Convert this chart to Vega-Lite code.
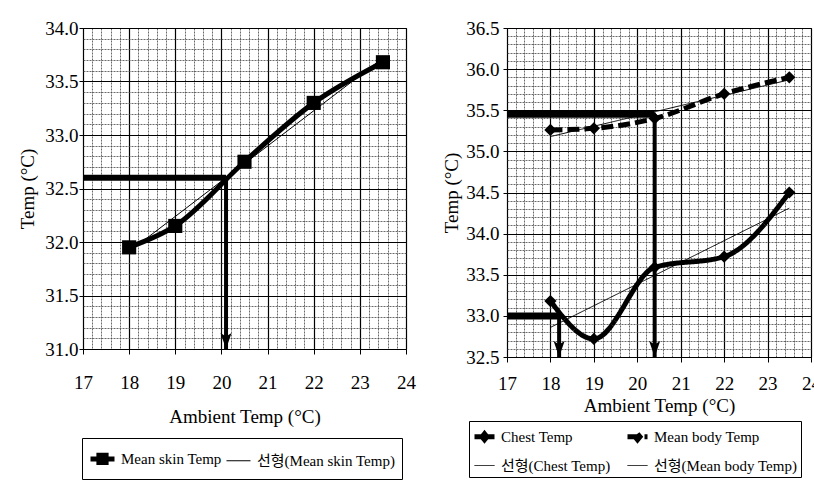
{
  "$schema": "https://vega.github.io/schema/vega-lite/v6.json",
  "padding": {"left": 18, "top": 18, "right": 0, "bottom": 0},
  "background": "white",
  "bounds": "flush",
  "spacing": 101,
  "resolve": {"scale": {"strokeWidth": "independent", "strokeDash": "independent"}, "legend": {"strokeWidth": "independent", "strokeDash": "independent"}},
  "config": {
    "font": "Liberation Serif",
    "view": {"stroke": "black", "strokeWidth": 1},
    "legend": {
      "labelFont": "Liberation Serif, Noto Sans CJK KR", "labelFontSize": 15, "labelColor": "black",
      "strokeColor": "black", "fillColor": "white", "symbolStrokeColor": "black", "symbolType": "stroke",
      "labelLimit": 300
    }
  },
  "hconcat": [
    {
      "width": 323,
      "height": 321,
      "encoding": {
        "x": {
          "field": "x", "type": "quantitative",
          "scale": {"domain": [17, 24], "nice": false, "zero": false},
          "axis": {
            "title": "Ambient Temp (°C)",
            "labelFont": "Liberation Serif", "titleFont": "Liberation Serif",
            "labelFontSize": 19, "titleFontSize": 19, "titleFontWeight": "normal",
            "labelColor": "black", "titleColor": "black", "domain": false, "tickColor": "black",
            "labelOverlap": false, "labelFlush": false, "labelBound": false, "grid": true,
            "values": [17,17.2,17.4,17.6,17.8,18,18.2,18.4,18.6,18.8,19,19.2,19.4,19.6,19.8,20,20.2,20.4,20.6,20.8,21,21.2,21.4,21.6,21.8,22,22.2,22.4,22.6,22.8,23,23.2,23.4,23.6,23.8,24],
            "labelExpr": "abs(round(datum.value*10)%10)==0 ? format(datum.value,'d') : ''",
            "tickSize": 5, "labelPadding": 19, "titlePadding": 15,
            "tickOpacity": {"condition": {"test": "abs(round(datum.value*10)%10)==0", "value": 1}, "value": 0},
            "gridColor": {"condition": {"test": "abs(round(datum.value*10)%10)==0", "value": "#000000"}, "value": "#444444"},
            "gridDash": {"condition": {"test": "abs(round(datum.value*10)%10)==0", "value": []}, "value": [2, 1]},
            "gridWidth": {"condition": {"test": "abs(round(datum.value*10)%10)==0", "value": 1.2}, "value": 0.8}
          }
        },
        "y": {
          "field": "y", "type": "quantitative",
          "scale": {"domain": [31, 34], "nice": false, "zero": false},
          "axis": {
            "title": "Temp (°C)",
            "labelFont": "Liberation Serif", "titleFont": "Liberation Serif",
            "labelFontSize": 19, "titleFontSize": 19, "titleFontWeight": "normal",
            "labelColor": "black", "titleColor": "black", "domain": false, "tickColor": "black",
            "labelOverlap": false, "labelFlush": false, "labelBound": false, "grid": true,
            "values": [31,31.1,31.2,31.3,31.4,31.5,31.6,31.7,31.8,31.9,32,32.1,32.2,32.3,32.4,32.5,32.6,32.7,32.8,32.9,33,33.1,33.2,33.3,33.4,33.5,33.6,33.7,33.8,33.9,34],
            "labelExpr": "abs(round(datum.value*10)%5)==0 ? format(datum.value,'.1f') : ''",
            "tickSize": 4, "labelPadding": 1, "titlePadding": 7,
            "tickOpacity": {"condition": {"test": "abs(round(datum.value*10)%5)==0", "value": 1}, "value": 0},
            "gridColor": {"condition": {"test": "abs(round(datum.value*10)%5)==0", "value": "#000000"}, "value": "#444444"},
            "gridDash": {"condition": {"test": "abs(round(datum.value*10)%5)==0", "value": []}, "value": [2, 1]},
            "gridWidth": {"condition": {"test": "abs(round(datum.value*10)%5)==0", "value": 1.2}, "value": 0.8}
          }
        }
      },
      "layer": [
        {
          "data": {"values": [
            {"x": 18, "y": 31.91, "series": "선형(Mean skin Temp)"},
            {"x": 23.5, "y": 33.72, "series": "선형(Mean skin Temp)"}
          ]},
          "mark": {"type": "line", "color": "black"},
          "encoding": {
            "strokeWidth": {"field": "series", "type": "nominal",
              "scale": {"type": "ordinal", "domain": ["Mean skin Temp", "선형(Mean skin Temp)"], "range": [5, 1]},
              "legend": {"title": null, "orient": "none", "legendX": -1, "legendY": 410, "direction": "horizontal", "columns": 2, "symbolSize": 576, "columnPadding": 2, "labelOffset": 4, "padding": 6,
                "encode": {"symbols": {"update": {
                  "shape": {"signal": "datum.value == 'Mean skin Temp' ? 'M-1,0H1M-0.3,-0.3H0.3V0.3H-0.3Z' : 'stroke'"},
                  "fill": {"value": "black"}, "stroke": {"value": "black"}, "opacity": {"value": 1},
                  "strokeWidth": {"signal": "datum.value == 'Mean skin Temp' ? 5 : 1"}}}}}}
          }
        },
        {
          "data": {"values": [
            {"x": 18, "y": 31.95, "series": "Mean skin Temp"},
            {"x": 19, "y": 32.15, "series": "Mean skin Temp"},
            {"x": 20.5, "y": 32.75, "series": "Mean skin Temp"},
            {"x": 22, "y": 33.3, "series": "Mean skin Temp"},
            {"x": 23.5, "y": 33.68, "series": "Mean skin Temp"}
          ]},
          "layer": [
            {
              "mark": {"type": "line", "color": "black", "interpolate": "monotone"},
              "encoding": {
                "strokeWidth": {"field": "series", "type": "nominal",
                  "scale": {"type": "ordinal", "domain": ["Mean skin Temp", "선형(Mean skin Temp)"], "range": [5, 1]},
                  "legend": {"title": null, "orient": "none", "legendX": -1, "legendY": 410, "direction": "horizontal", "columns": 2, "symbolSize": 576, "columnPadding": 2, "labelOffset": 4, "padding": 6,
                    "encode": {"symbols": {"update": {
                      "shape": {"signal": "datum.value == 'Mean skin Temp' ? 'M-1,0H1M-0.3,-0.3H0.3V0.3H-0.3Z' : 'stroke'"},
                      "fill": {"value": "black"}, "stroke": {"value": "black"}, "opacity": {"value": 1},
                      "strokeWidth": {"signal": "datum.value == 'Mean skin Temp' ? 5 : 1"}}}}}}
              }
            },
            {
              "mark": {"type": "point", "shape": "square", "filled": true, "color": "black", "size": 200, "opacity": 1}
            }
          ]
        },
        {
          "data": {"values": [{"x": 17, "x2": 20.1, "y": 32.6}]},
          "mark": {"type": "rule", "color": "black", "strokeWidth": 6},
          "encoding": {"x2": {"field": "x2"}}
        },
        {
          "data": {"values": [{"x": 20.1, "y": 32.6, "y2": 31.0}]},
          "mark": {"type": "rule", "color": "black", "strokeWidth": 4},
          "encoding": {"y2": {"field": "y2"}}
        },
        {
          "data": {"values": [{"x": 20.1, "y": 31.093}]},
          "mark": {"type": "point", "shape": "M0,1L-0.55,-0.6L0,-0.25L0.55,-0.6Z", "filled": true, "color": "black", "size": 400, "opacity": 1}
        }
      ]
    },
    {
      "width": 304,
      "height": 329,
      "encoding": {
        "x": {
          "field": "x", "type": "quantitative",
          "scale": {"domain": [17, 24], "nice": false, "zero": false},
          "axis": {
            "title": "Ambient Temp (°C)",
            "labelFont": "Liberation Serif", "titleFont": "Liberation Serif",
            "labelFontSize": 19, "titleFontSize": 19, "titleFontWeight": "normal",
            "labelColor": "black", "titleColor": "black", "domain": false, "tickColor": "black",
            "labelOverlap": false, "labelFlush": false, "labelBound": false, "grid": true,
            "values": [17,17.2,17.4,17.6,17.8,18,18.2,18.4,18.6,18.8,19,19.2,19.4,19.6,19.8,20,20.2,20.4,20.6,20.8,21,21.2,21.4,21.6,21.8,22,22.2,22.4,22.6,22.8,23,23.2,23.4,23.6,23.8,24],
            "labelExpr": "abs(round(datum.value*10)%10)==0 ? format(datum.value,'d') : ''",
            "tickSize": 5, "labelPadding": 12, "titlePadding": 3,
            "tickOpacity": {"condition": {"test": "abs(round(datum.value*10)%10)==0", "value": 1}, "value": 0},
            "gridColor": {"condition": {"test": "abs(round(datum.value*10)%10)==0", "value": "#000000"}, "value": "#444444"},
            "gridDash": {"condition": {"test": "abs(round(datum.value*10)%10)==0", "value": []}, "value": [2, 1]},
            "gridWidth": {"condition": {"test": "abs(round(datum.value*10)%10)==0", "value": 1.2}, "value": 0.8}
          }
        },
        "y": {
          "field": "y", "type": "quantitative",
          "scale": {"domain": [32.5, 36.5], "nice": false, "zero": false},
          "axis": {
            "title": "Temp (°C)",
            "labelFont": "Liberation Serif", "titleFont": "Liberation Serif",
            "labelFontSize": 19, "titleFontSize": 19, "titleFontWeight": "normal",
            "labelColor": "black", "titleColor": "black", "domain": false, "tickColor": "black",
            "labelOverlap": false, "labelFlush": false, "labelBound": false, "grid": true,
            "values": [32.5,32.6,32.7,32.8,32.9,33,33.1,33.2,33.3,33.4,33.5,33.6,33.7,33.8,33.9,34,34.1,34.2,34.3,34.4,34.5,34.6,34.7,34.8,34.9,35,35.1,35.2,35.3,35.4,35.5,35.6,35.7,35.8,35.9,36,36.1,36.2,36.3,36.4,36.5],
            "labelExpr": "abs(round(datum.value*10)%5)==0 ? format(datum.value,'.1f') : ''",
            "tickSize": 4, "labelPadding": 4, "titlePadding": 4,
            "tickOpacity": {"condition": {"test": "abs(round(datum.value*10)%5)==0", "value": 1}, "value": 0},
            "gridColor": {"condition": {"test": "abs(round(datum.value*10)%5)==0", "value": "#000000"}, "value": "#444444"},
            "gridDash": {"condition": {"test": "abs(round(datum.value*10)%5)==0", "value": []}, "value": [2, 1]},
            "gridWidth": {"condition": {"test": "abs(round(datum.value*10)%5)==0", "value": 1.2}, "value": 0.8}
          }
        }
      },
      "layer": [
        {
          "data": {"values": [
            {"x": 18, "y": 32.86, "series": "선형(Chest Temp)"},
            {"x": 23.5, "y": 34.31, "series": "선형(Chest Temp)"},
            {"x": 18, "y": 35.18, "series": "선형(Mean body Temp)"},
            {"x": 23.5, "y": 35.87, "series": "선형(Mean body Temp)"}
          ]},
          "mark": {"type": "line", "color": "black"},
          "encoding": {
            "strokeWidth": {"field": "series", "type": "nominal",
              "scale": {"type": "ordinal", "domain": ["Chest Temp", "Mean body Temp", "선형(Chest Temp)", "선형(Mean body Temp)"], "range": [5, 5, 1, 1]},
              "legend": {"title": null, "orient": "none", "legendX": -38, "legendY": 393, "direction": "horizontal", "columns": 2, "symbolSize": 400, "columnPadding": 6, "rowPadding": 5, "labelOffset": 4, "padding": 3,
                "encode": {"symbols": {"update": {
                  "shape": {"signal": "indexof(['Chest Temp','Mean body Temp'], datum.value) >= 0 ? 'M-1,0H1M0,-0.3L0.25,0L0,0.3L-0.25,0Z' : 'stroke'"},
                  "fill": {"value": "black"}, "stroke": {"value": "black"}, "opacity": {"value": 1},
                  "strokeWidth": {"signal": "indexof(['Chest Temp','Mean body Temp'], datum.value) >= 0 ? 5 : 1"},
                  "strokeDash": {"signal": "datum.value == 'Mean body Temp' ? [7, 3] : [1, 0]"}}}}}},
            "strokeDash": {"field": "series", "type": "nominal",
              "scale": {"domain": ["Chest Temp", "Mean body Temp", "선형(Chest Temp)", "선형(Mean body Temp)"], "range": [[1, 0], [12, 5], [1, 0], [1, 0]]},
              "legend": {"title": null, "orient": "none", "legendX": -38, "legendY": 393, "direction": "horizontal", "columns": 2, "symbolSize": 400, "columnPadding": 6, "rowPadding": 5, "labelOffset": 4, "padding": 3,
                "encode": {"symbols": {"update": {
                  "shape": {"signal": "indexof(['Chest Temp','Mean body Temp'], datum.value) >= 0 ? 'M-1,0H1M0,-0.3L0.25,0L0,0.3L-0.25,0Z' : 'stroke'"},
                  "fill": {"value": "black"}, "stroke": {"value": "black"}, "opacity": {"value": 1},
                  "strokeWidth": {"signal": "indexof(['Chest Temp','Mean body Temp'], datum.value) >= 0 ? 5 : 1"},
                  "strokeDash": {"signal": "datum.value == 'Mean body Temp' ? [7, 3] : [1, 0]"}}}}}}
          }
        },
        {
          "data": {"values": [
            {"x": 18, "y": 33.18, "series": "Chest Temp"},
            {"x": 19, "y": 32.72, "series": "Chest Temp"},
            {"x": 20.4, "y": 33.59, "series": "Chest Temp"},
            {"x": 22, "y": 33.72, "series": "Chest Temp"},
            {"x": 23.5, "y": 34.5, "series": "Chest Temp"},
            {"x": 18, "y": 35.26, "series": "Mean body Temp"},
            {"x": 19, "y": 35.28, "series": "Mean body Temp"},
            {"x": 20.4, "y": 35.4, "series": "Mean body Temp"},
            {"x": 22, "y": 35.7, "series": "Mean body Temp"},
            {"x": 23.5, "y": 35.9, "series": "Mean body Temp"}
          ]},
          "layer": [
            {
              "mark": {"type": "line", "color": "black", "interpolate": "monotone"},
              "encoding": {
                "strokeWidth": {"field": "series", "type": "nominal",
                  "scale": {"type": "ordinal", "domain": ["Chest Temp", "Mean body Temp", "선형(Chest Temp)", "선형(Mean body Temp)"], "range": [5, 5, 1, 1]},
                  "legend": {"title": null, "orient": "none", "legendX": -38, "legendY": 393, "direction": "horizontal", "columns": 2, "symbolSize": 400, "columnPadding": 6, "rowPadding": 5, "labelOffset": 4, "padding": 3,
                    "encode": {"symbols": {"update": {
                      "shape": {"signal": "indexof(['Chest Temp','Mean body Temp'], datum.value) >= 0 ? 'M-1,0H1M0,-0.3L0.25,0L0,0.3L-0.25,0Z' : 'stroke'"},
                      "fill": {"value": "black"}, "stroke": {"value": "black"}, "opacity": {"value": 1},
                      "strokeWidth": {"signal": "indexof(['Chest Temp','Mean body Temp'], datum.value) >= 0 ? 5 : 1"},
                      "strokeDash": {"signal": "datum.value == 'Mean body Temp' ? [7, 3] : [1, 0]"}}}}}},
                "strokeDash": {"field": "series", "type": "nominal",
                  "scale": {"domain": ["Chest Temp", "Mean body Temp", "선형(Chest Temp)", "선형(Mean body Temp)"], "range": [[1, 0], [12, 5], [1, 0], [1, 0]]},
                  "legend": {"title": null, "orient": "none", "legendX": -38, "legendY": 393, "direction": "horizontal", "columns": 2, "symbolSize": 400, "columnPadding": 6, "rowPadding": 5, "labelOffset": 4, "padding": 3,
                    "encode": {"symbols": {"update": {
                      "shape": {"signal": "indexof(['Chest Temp','Mean body Temp'], datum.value) >= 0 ? 'M-1,0H1M0,-0.3L0.25,0L0,0.3L-0.25,0Z' : 'stroke'"},
                      "fill": {"value": "black"}, "stroke": {"value": "black"}, "opacity": {"value": 1},
                      "strokeWidth": {"signal": "indexof(['Chest Temp','Mean body Temp'], datum.value) >= 0 ? 5 : 1"},
                      "strokeDash": {"signal": "datum.value == 'Mean body Temp' ? [7, 3] : [1, 0]"}}}}}}
              }
            },
            {
              "mark": {"type": "point", "shape": "diamond", "filled": true, "color": "black", "size": 150, "opacity": 1}
            }
          ]
        },
        {
          "data": {"values": [{"x": 17, "x2": 20.4, "y": 35.45}, {"x": 17, "x2": 18.2, "y": 33.0}]},
          "mark": {"type": "rule", "color": "black", "strokeWidth": 7},
          "encoding": {"x2": {"field": "x2"}}
        },
        {
          "data": {"values": [{"x": 20.4, "y": 35.45, "y2": 32.5}, {"x": 18.2, "y": 33.0, "y2": 32.5}]},
          "mark": {"type": "rule", "color": "black", "strokeWidth": 4},
          "encoding": {"y2": {"field": "y2"}}
        },
        {
          "data": {"values": [{"x": 20.4, "y": 32.622}, {"x": 18.2, "y": 32.622}]},
          "mark": {"type": "point", "shape": "M0,1L-0.55,-0.6L0,-0.25L0.55,-0.6Z", "filled": true, "color": "black", "size": 400, "opacity": 1}
        }
      ]
    }
  ]
}
